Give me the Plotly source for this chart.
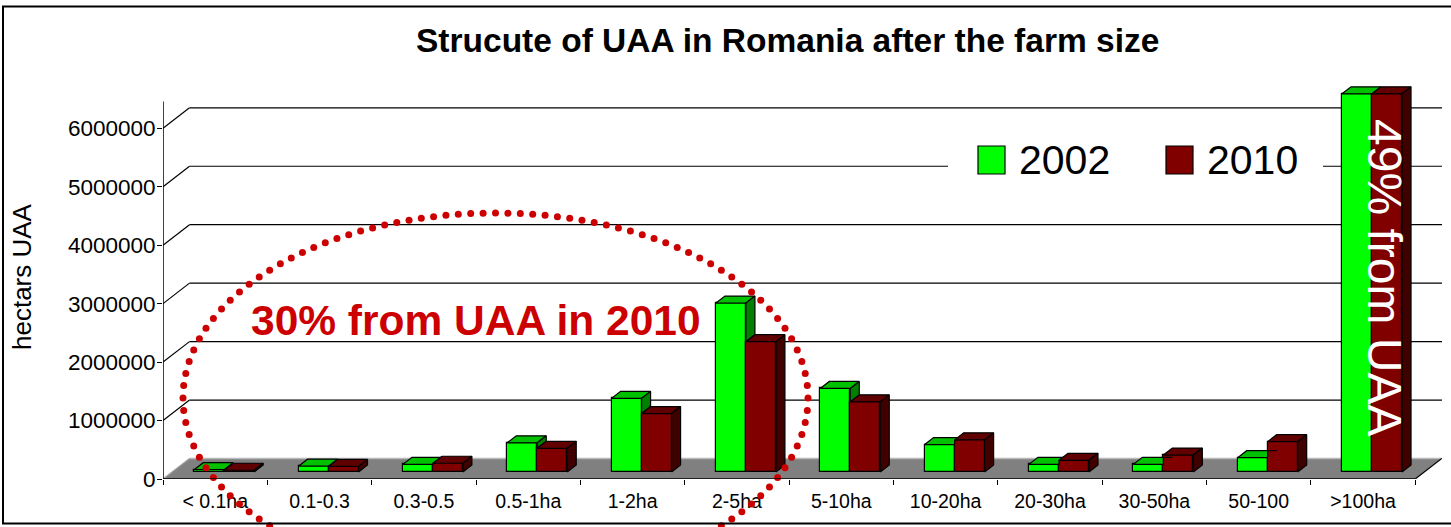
import numpy as np
import plotly.graph_objects as go

# ---------------- data ----------------
categories = ["< 0.1ha", "0.1-0.3", "0.3-0.5", "0.5-1ha", "1-2ha", "2-5ha",
              "5-10ha", "10-20ha", "20-30ha", "30-50ha", "50-100", ">100ha"]
uaa_2002 = [40000, 100000, 130000, 500000, 1260000, 2890000,
            1430000, 470000, 130000, 130000, 245000, 6470000]
uaa_2010 = [30000, 95000, 150000, 405000, 1000000, 2230000,
            1200000, 550000, 200000, 290000, 520000, 6470000]
y_ticks = [0, 1000000, 2000000, 3000000, 4000000, 5000000, 6000000]
series_names = ["2002", "2010"]

title_text = "Strucute of UAA in Romania after the farm size"
y_title = "hectars UAA"
note_left = "30% from UAA in 2010"
note_right = "49% from UAA"

# ---------------- geometry / style ----------------
W, H = 1451, 527
L, R, T, B = 163, 1442, 81, 479          # plot area edges (px)
CAT_PX = 104.35                          # px per category
PX_PER_UNIT = 58.45 / 1e6                # px per hectare
FONT = "Liberation Sans, Arial, sans-serif"

x_range = [-0.5, -0.5 + (R - L) / CAT_PX]
y_range = [0, (B - T) / PX_PER_UNIT]


def dxu(px):
    return px / CAT_PX


def dyu(px):
    return px / PX_PER_UNIT


def paper_x(px):
    return px / W


def paper_y(py):
    return 1 - py / H


back_dx, back_dy = dxu(26.5), dyu(20.5)      # depth of the floor / back wall
bf_dx, bf_dy = dxu(9), dyu(7)                # bar front plane offset
bd_dx, bd_dy = dxu(9), dyu(7)                # bar depth
BW = dxu(30)                                 # bar width

GREEN, GREEN_TOP, GREEN_SIDE = "#00FF00", "#00C000", "#008000"
RED, RED_TOP, RED_SIDE = "#800000", "#600000", "#400000"
EDGE = dict(color="black", width=1.2)

n = len(categories)
idx = list(range(n))

fig = go.Figure()

# front faces of the bars
fig.add_bar(x=idx, y=uaa_2002, base=[bf_dy] * n, width=BW, offset=bf_dx - BW,
            marker=dict(color=GREEN, line=EDGE), name=series_names[0],
            showlegend=False)
fig.add_bar(x=idx, y=uaa_2010, base=[bf_dy] * n, width=BW, offset=bf_dx,
            marker=dict(color=RED, line=EDGE), name=series_names[1],
            showlegend=False)


def poly_trace(polys, color):
    xs, ys = [], []
    for p in polys:
        for (a, b) in p:
            xs.append(a)
            ys.append(b)
        xs.append(p[0][0])
        ys.append(p[0][1])
        xs.append(None)
        ys.append(None)
    return go.Scatter(x=xs, y=ys, mode="lines", fill="toself", fillcolor=color,
                      line=EDGE, hoverinfo="skip", showlegend=False)


g_tops, g_sides, r_tops, r_sides = [], [], [], []
for i in idx:
    gxl, gxr = i + bf_dx - BW, i + bf_dx
    rxl, rxr = gxr, gxr + BW
    hg = bf_dy + uaa_2002[i]
    hr = bf_dy + uaa_2010[i]
    # green top, clipped where the red front face hides it
    hc = min(max(hr, hg), hg + bd_dy)
    g_tops.append([(gxl, hg), (gxr, hg), (gxr, hc),
                   (gxr + (hc - hg) / bd_dy * bd_dx, hc),
                   (gxr + bd_dx, hg + bd_dy), (gxl + bd_dx, hg + bd_dy)])
    # visible part of green side (above the red bar)
    if hg > hr:
        g_sides.append([(gxr, hr), (gxr + bd_dx, hr + bd_dy),
                        (gxr + bd_dx, hg + bd_dy), (gxr, hg)])
    r_tops.append([(rxl, hr), (rxr, hr), (rxr + bd_dx, hr + bd_dy),
                   (rxl + bd_dx, hr + bd_dy)])
    r_sides.append([(rxr, bf_dy), (rxr + bd_dx, bf_dy + bd_dy),
                    (rxr + bd_dx, hr + bd_dy), (rxr, hr)])

fig.add_trace(poly_trace(g_tops, GREEN_TOP))
if g_sides:
    fig.add_trace(poly_trace(g_sides, GREEN_SIDE))
fig.add_trace(poly_trace(r_tops, RED_TOP))
fig.add_trace(poly_trace(r_sides, RED_SIDE))

# dotted ellipse (annotation) as round markers, on a full-figure pixel overlay axis
cx, cy, ea, eb = 495.5, 398, 312.5, 185
t = np.linspace(0, 2 * np.pi, 4000)
ex, ey = cx + ea * np.cos(t), cy + eb * np.sin(t)
seg = np.hypot(np.diff(ex), np.diff(ey))
s = np.concatenate([[0], np.cumsum(seg)])
n_dots = int(s[-1] / 12.4)
targets = np.linspace(0, s[-1], n_dots, endpoint=False)
dot_x = np.interp(targets, s, ex)
dot_y = np.interp(targets, s, ey)
keep = dot_y < H + 4
fig.add_trace(go.Scatter(x=dot_x[keep], y=dot_y[keep], xaxis="x2", yaxis="y2",
                         mode="markers", cliponaxis=False,
                         marker=dict(size=7, color="#CC0000", line=dict(width=0)),
                         hoverinfo="skip", showlegend=False))

# ---------------- shapes: floor, walls, gridlines ----------------
shapes = []
x_first, x_last = -0.5, n - 0.5
floor_path = (f"M {x_first},0 L {x_last},0 L {x_last + back_dx},{back_dy} "
              f"L {x_first + back_dx},{back_dy} Z")
shapes.append(dict(type="path", path=floor_path, xref="x", yref="y",
                   fillcolor="#808080", line=dict(width=0), layer="below"))
shapes.append(dict(type="line", xref="x", yref="y", x0=x_first + back_dx, y0=back_dy,
                   x1=x_last + back_dx, y1=back_dy,
                   line=dict(color="#B8B8B8", width=1.5), layer="below"))
shapes.append(dict(type="line", xref="x", yref="y", x0=x_last, y0=0,
                   x1=x_last + back_dx, y1=back_dy,
                   line=dict(color="black", width=1.2), layer="below"))
for v in y_ticks:
    shapes.append(dict(type="line", xref="x", yref="y", x0=x_first, y0=v,
                       x1=x_first + back_dx, y1=v + back_dy,
                       line=dict(color="black" if v else "#A0A0A0", width=1.2),
                       layer="below"))
    if v:
        shapes.append(dict(type="line", xref="x", yref="y", x0=x_first + back_dx,
                           y0=v + back_dy, x1=x_range[1], y1=v + back_dy,
                           line=dict(color="black", width=1.2), layer="below"))
# front axes lines
shapes.append(dict(type="line", xref="x", yref="y", x0=x_first, y0=0, x1=x_last, y1=0,
                   line=dict(color="black", width=1.5), layer="above"))
shapes.append(dict(type="line", xref="x", yref="y", x0=x_first, y0=0, x1=x_first,
                   y1=y_range[1] - back_dy, line=dict(color="black", width=1.5),
                   layer="above"))

# legend (drawn manually to match large symbols)
shapes.append(dict(type="rect", xref="paper", yref="paper",
                   x0=paper_x(948), x1=paper_x(1323), y0=paper_y(198), y1=paper_y(128),
                   fillcolor="white", line=dict(width=0), layer="above"))
leg_colors = [GREEN, RED]
leg_sq_x = [978, 1166]
for c, sx in zip(leg_colors, leg_sq_x):
    shapes.append(dict(type="rect", xref="paper", yref="paper",
                       x0=paper_x(sx), x1=paper_x(sx + 27), y0=paper_y(174), y1=paper_y(146),
                       fillcolor=c, line=dict(color="black", width=1.2), layer="above"))

# outer border
shapes.append(dict(type="rect", xref="paper", yref="paper",
                   x0=paper_x(3), x1=paper_x(1470), y0=paper_y(523.5), y1=paper_y(6.5),
                   line=dict(color="black", width=2), fillcolor="rgba(0,0,0,0)",
                   layer="above"))

annotations = []
for name, sx in zip(series_names, leg_sq_x):
    annotations.append(dict(text=name, xref="paper", yref="paper",
                            x=paper_x(sx + 39), y=paper_y(160), xanchor="left",
                            yanchor="middle", showarrow=False,
                            font=dict(family=FONT, size=41, color="black")))
annotations.append(dict(text="<b>" + title_text + "</b>", xref="paper", yref="paper",
                        x=paper_x(787), y=paper_y(41), xanchor="center", yanchor="middle",
                        showarrow=False, font=dict(family=FONT, size=33.5, color="black")))
annotations.append(dict(text=y_title, xref="paper", yref="paper", textangle=-90,
                        x=paper_x(22), y=paper_y(277), xanchor="center", yanchor="middle",
                        showarrow=False, font=dict(family=FONT, size=26, color="black")))
annotations.append(dict(text="<b>" + note_left + "</b>", xref="paper", yref="paper",
                        x=paper_x(476), y=paper_y(320), xanchor="center", yanchor="middle",
                        showarrow=False, font=dict(family=FONT, size=42.5, color="#CC0000")))
annotations.append(dict(text=note_right, xref="paper", yref="paper", textangle=90,
                        x=paper_x(1385), y=paper_y(277), xanchor="center", yanchor="middle",
                        showarrow=False, font=dict(family=FONT, size=48, color="white")))

fig.update_layout(
    width=W, height=H,
    margin=dict(l=0, r=0, t=0, b=0, autoexpand=False),
    paper_bgcolor="white", plot_bgcolor="rgba(0,0,0,0)",
    barmode="overlay", bargap=0,
    showlegend=False,
    shapes=shapes, annotations=annotations,
    font=dict(family=FONT, color="black"),
    xaxis=dict(domain=[L / W, R / W], type="linear", range=x_range, tickmode="array",
               tickvals=idx, ticktext=categories, ticks="outside", ticklen=5,
               tickcolor="rgba(0,0,0,0)", showgrid=False, zeroline=False,
               showline=False, tickfont=dict(size=19.5, family=FONT),
               minor=dict(tickmode="array", tickvals=[i - 0.5 for i in range(n + 1)],
                          ticks="outside", ticklen=5, tickcolor="black", tickwidth=1.2,
                          showgrid=False),
               fixedrange=True, automargin=False),
    yaxis=dict(domain=[1 - B / H, 1 - T / H], range=y_range, tickmode="array",
               tickvals=y_ticks, ticktext=[str(v) for v in y_ticks], ticks="outside",
               ticklen=5, tickcolor="black", tickwidth=1.2, showgrid=False,
               zeroline=False, showline=False, tickfont=dict(size=22.5, family=FONT),
               ticklabelstandoff=-3, fixedrange=True, automargin=False),
    xaxis2=dict(domain=[0, 1], range=[0, W], visible=False, anchor="y2",
                fixedrange=True),
    yaxis2=dict(domain=[0, 1], range=[H, 0], visible=False, anchor="x2",
                fixedrange=True),
)

fig.write_html("out.html", config={"displayModeBar": False},
               post_script="document.body.style.margin='0px';")
